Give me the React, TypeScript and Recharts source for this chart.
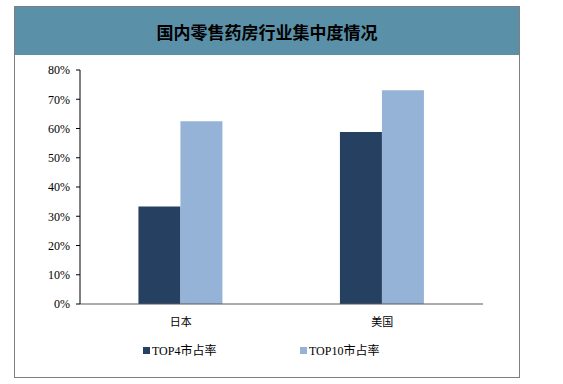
import { BarChart, Bar, XAxis, YAxis, Legend } from 'recharts';

const regions = ['日本', '美国'];
const top4Share = [33.3, 58.8];
const top10Share = [62.5, 73.1];
const seriesNames = ['TOP4市占率', 'TOP10市占率'];
const yTicks = [0, 10, 20, 30, 40, 50, 60, 70, 80];

const data = regions.map((name, i) => ({
  name,
  top4: top4Share[i],
  top10: top10Share[i],
}));

const serif = '"Liberation Serif", "Noto Sans CJK SC", serif';
const cjk = '"Noto Sans CJK SC", sans-serif';

// legend: square marker + label, spaced like the original
const renderLegend = (props: any) => {
  const items = [...(props.payload || [])].sort(
    (a: any, b: any) => seriesNames.indexOf(a.value) - seriesNames.indexOf(b.value)
  );
  return (
    <div style={{ display: 'flex' }}>
      {items.map((entry: any) => (
        <div
          key={entry.value}
          style={{ width: 157, display: 'flex', alignItems: 'center' }}
        >
          <span
            style={{
              width: 7,
              height: 7,
              background: entry.color,
              marginRight: 2,
              display: 'inline-block',
            }}
          />
          <span style={{ fontFamily: serif, fontSize: 12, color: '#000' }}>
            {entry.value}
          </span>
        </div>
      ))}
    </div>
  );
};

const App = () => {
  return (
    <div
      style={{
        position: 'absolute',
        left: 0,
        top: 0,
        width: 563,
        height: 384,
        background: '#fff',
      }}
    >
      {/* frame + title band */}
      <div
        style={{
          position: 'absolute',
          left: 14,
          top: 6,
          width: 504,
          height: 370,
          border: '1px solid #7f7f7f',
        }}
      >
        <div
          style={{
            height: 48,
            background: '#5b91a8',
            display: 'flex',
            alignItems: 'center',
            justifyContent: 'center',
            fontFamily: cjk,
            fontWeight: 700,
            fontSize: 17,
            color: '#000',
          }}
        >
          国内零售药房行业集中度情况
        </div>
      </div>

      <div style={{ position: 'absolute', left: 0, top: 0 }}>
        <BarChart
          width={563}
          height={384}
          data={data}
          margin={{ top: 70, right: 80, bottom: 60, left: 40 }}
          barCategoryGap="29%"
          barGap={0}
        >
          <XAxis
            dataKey="name"
            height={1}
            tickLine={false}
            axisLine={{ stroke: '#595959' }}
            tickMargin={8}
            tick={{ fontFamily: cjk, fontSize: 11, fill: '#000' }}
          />
          <XAxis
            xAxisId="edge"
            type="number"
            domain={[0, 2]}
            ticks={[0, 1, 2]}
            height={1}
            axisLine={false}
            tick={false}
            tickSize={4}
            tickLine={{ stroke: '#595959' }}
          />
          <YAxis
            width={40}
            domain={[0, 80]}
            ticks={yTicks}
            tickFormatter={(v: number) => `${v}%`}
            axisLine={{ stroke: '#000' }}
            tickLine={{ stroke: '#000' }}
            tickSize={4}
            tickMargin={6}
            interval={0}
            tick={{ fontFamily: serif, fontSize: 12, fill: '#000' }}
          />
          <Legend
            content={renderLegend}
            wrapperStyle={{ position: 'absolute', left: 143, top: 341, width: 330 }}
          />
          <Bar
            dataKey="top4"
            name={seriesNames[0]}
            fill="#254061"
            isAnimationActive={false}
          />
          <Bar
            dataKey="top10"
            name={seriesNames[1]}
            fill="#95b3d7"
            isAnimationActive={false}
          />
        </BarChart>
      </div>
    </div>
  );
};

export default App;
